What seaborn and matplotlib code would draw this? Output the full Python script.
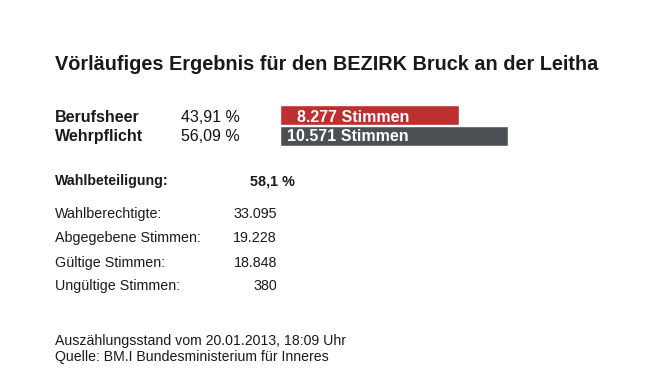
import matplotlib
matplotlib.use("Agg")
import matplotlib.pyplot as plt
import seaborn as sns
import pandas as pd

# ---- data ----
title = "Vörläufiges Ergebnis für den BEZIRK Bruck an der Leitha"
options = ["Berufsheer", "Wehrpflicht"]
percents = ["43,91 %", "56,09 %"]
votes = [8277, 10571]
vote_labels = ["8.277 Stimmen", "10.571 Stimmen"]
bar_colors = ["#be2f30", "#4b5053"]

turnout_label = "Wahlbeteiligung:"
turnout_value = "58,1 %"
stat_labels = ["Wahlberechtigte:", "Abgegebene Stimmen:", "Gültige Stimmen:", "Ungültige Stimmen:"]
stat_values = ["33.095", "19.228", "18.848", "380"]
footer = ["Auszählungsstand vom 20.01.2013, 18:09 Uhr",
          "Quelle: BM.I Bundesministerium für Inneres"]

sns.set_theme(style="white")
plt.rcParams['font.family'] = ['Liberation Sans', 'DejaVu Sans']

W, H = 646, 380
fig = plt.figure(figsize=(W / 100, H / 100), dpi=100)
fig.patch.set_facecolor("white")

def fx(px):
    return px / W

def fy(py):
    return 1 - py / H

# bar axes: pixels x 280..520, y 105..146
ax = fig.add_axes([fx(280), fy(146), fx(520) - fx(280), (146 - 105) / H])
df = pd.DataFrame({"option": options, "votes": votes})
sns.barplot(data=df, y="option", x="votes", hue="option", palette=bar_colors,
            orient="h", width=0.96, legend=False, ax=ax, saturation=1)
ax.set_xlim(0, 10571 * 240 / 228)
ax.set_ylim(1.5, -0.5)
ax.axis("off")

# title
fig.text(fx(55), fy(70), title, fontsize=14.3, fontweight="bold", color="#1a1a1a", va="baseline")

# rows
baselines = [122, 141]
for i, (opt, pct, vl) in enumerate(zip(options, percents, vote_labels)):
    fig.text(fx(55), fy(baselines[i]), opt, fontsize=11.5, fontweight="bold", color="#1a1a1a", va="baseline")
    fig.text(fx(240), fy(baselines[i]), pct, fontsize=11.5, color="#111111", va="baseline", ha="right")
    fig.text(fx(409), fy(baselines[i]), vl, fontsize=11.5, fontweight="bold", color="white", va="baseline", ha="right")

fig.text(fx(55), fy(185), turnout_label, fontsize=10.2, fontweight="bold", color="#1a1a1a", va="baseline")
fig.text(fx(295), fy(185), turnout_value, fontsize=10.4, fontweight="bold", color="#1a1a1a", va="baseline", ha="right")

stat_base = [218, 242, 267, 290]
for lab, val, b in zip(stat_labels, stat_values, stat_base):
    fig.text(fx(55), fy(b), lab, fontsize=10.3, color="#1a1a1a", va="baseline")
    fig.text(fx(277), fy(b), val, fontsize=10.3, color="#1a1a1a", va="baseline", ha="right")

for line, b in zip(footer, [345, 361]):
    fig.text(fx(55), fy(b), line, fontsize=10.2, color="#1a1a1a", va="baseline")

fig.savefig("out.png", dpi=100, facecolor="white")
